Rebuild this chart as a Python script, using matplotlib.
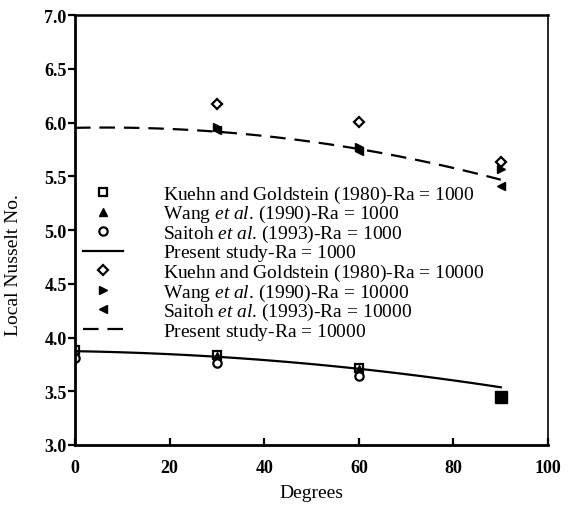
import matplotlib
matplotlib.use("Agg")
import matplotlib.pyplot as plt
import numpy as np

plt.rcParams['font.family'] = 'Liberation Serif'
plt.rcParams['mathtext.fontset'] = 'custom'
plt.rcParams['mathtext.it'] = 'Liberation Serif:italic'
plt.rcParams['mathtext.rm'] = 'Liberation Serif'

deg = [0, 30, 60, 90]

# Ra = 1000
kuehn_1k_x = [0, 30, 60]
kuehn_1k = [3.88, 3.84, 3.72]
kuehn_1k_x90 = [90]
kuehn_1k_90 = [3.45]
wang_1k_x = [0, 30, 60]
wang_1k = [3.85, 3.83, 3.71]
saitoh_1k_x = [0, 30, 60]
saitoh_1k = [3.81, 3.76, 3.64]
present_1k = [3.87, 3.83, 3.70, 3.54]

# Ra = 10000
kuehn_10k_x = [30, 60, 90]
kuehn_10k = [6.17, 6.01, 5.63]
wang_10k_x = [30, 60, 90]
wang_10k = [5.96, 5.77, 5.57]
saitoh_10k_x = [30, 60, 90]
saitoh_10k = [5.93, 5.74, 5.41]
present_10k = [5.95, 5.92, 5.75, 5.47]

labels = [
    r'Kuehn and Goldstein (1980)-Ra = 1000${}$',
    r'Wang $\it{et\ al}$. (1990)-Ra = 1000',
    r'Saitoh $\it{et\ al}$. (1993)-Ra = 1000',
    r'Present study-Ra = 1000${}$',
    r'Kuehn and Goldstein (1980)-Ra = 10000${}$',
    r'Wang $\it{et\ al}$. (1990)-Ra = 10000',
    r'Saitoh $\it{et\ al}$. (1993)-Ra = 10000',
    r'Present study-Ra = 10000${}$',
]

fig = plt.figure(figsize=(5.68, 5.06), dpi=100)
ax = fig.add_axes([0.132, 0.1186, 0.833, 0.8494])

# smooth curves through the present-study points
xs = np.linspace(0, 90, 91)
c1 = np.polyfit(deg, present_1k, 2)
c2 = np.polyfit(deg, present_10k, 2)

ms = 6
ax.plot(kuehn_1k_x, kuehn_1k, 's', mfc='white', mec='black', mew=1.6, ms=ms, label=labels[0])
ax.plot(wang_1k_x, wang_1k, '^', color='black', ms=ms, label=labels[1])
ax.plot(saitoh_1k_x, saitoh_1k, 'o', mfc='white', mec='black', mew=1.6, ms=ms, label=labels[2])
ax.plot(xs, np.polyval(c1, xs), '-', color='black', lw=1.6, label=labels[3])
ax.plot(kuehn_10k_x, kuehn_10k, 'D', mfc='white', mec='black', mew=1.6, ms=ms - 0.5, label=labels[4])
ax.plot(wang_10k_x, wang_10k, '>', color='black', ms=ms, label=labels[5])
ax.plot(saitoh_10k_x, saitoh_10k, '<', color='black', ms=ms, label=labels[6])
ax.plot(xs, np.polyval(c2, xs), '--', color='black', lw=1.6, dashes=(7, 4), label=labels[7])
ax.plot(kuehn_1k_x90, kuehn_1k_90, 's', color='black', ms=8)

ax.set_xlim(0, 100)
ax.set_ylim(3.0, 7.0)
ax.set_xticks([0, 20, 40, 60, 80, 100])
ax.set_yticks([3.0, 3.5, 4.0, 4.5, 5.0, 5.5, 6.0, 6.5, 7.0])
ax.set_yticklabels(['3.0', '3.5', '4.0', '4.5', '5.0', '5.5', '6.0', '6.5', '7.0'])
ax.tick_params(axis='y', direction='out', length=5, width=1.6, labelsize=13, pad=1)
ax.tick_params(axis='x', direction='in', length=5, width=1.6, labelsize=13, pad=10)
for lab in ax.get_xticklabels() + ax.get_yticklabels():
    lab.set_fontweight('bold')
ax.spines['left'].set_linewidth(2.0)
ax.spines['bottom'].set_linewidth(2.0)
ax.spines['top'].set_linewidth(1.8)
ax.spines['right'].set_linewidth(1.2)

ax.set_xlabel('Degrees', fontsize=14, labelpad=6)
ax.set_ylabel('Local Nusselt No.', fontsize=14)
ax.yaxis.set_label_coords(-0.112, 0.42)

ax.legend(loc='upper left', bbox_to_anchor=(0.0, 0.626), frameon=False,
          fontsize=14, handlelength=2.05, handletextpad=2.1, labelspacing=-0.08,
          borderaxespad=0.0)

fig.savefig('out.png', dpi=100)
